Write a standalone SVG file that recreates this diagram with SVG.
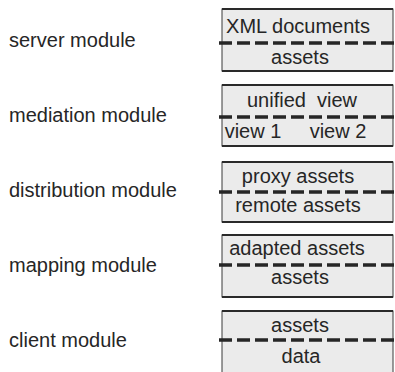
<svg xmlns="http://www.w3.org/2000/svg" width="395" height="372" viewBox="0 0 395 372">
<style>
text{font-family:"Liberation Sans",Arial,sans-serif;font-size:20px;fill:#262626}
.c{text-anchor:middle}
.box{fill:#ebebeb;stroke:#3a3a3a;stroke-width:1}
.edge{stroke:#2a2a2a;stroke-width:2.2;fill:none}
.dash{stroke:#262626;stroke-width:3.4;stroke-dasharray:13 5;fill:none}
</style>
<rect width="395" height="372" fill="#ffffff"/>
<g id="labels">
<text x="9" y="47">server module</text>
<text x="9" y="122">mediation module</text>
<text x="9" y="197">distribution module</text>
<text x="9" y="272">mapping module</text>
<text x="9" y="347">client module</text>
</g>
<g id="server">
<rect class="box" x="222" y="9" width="171" height="62"/>
<line class="edge" x1="222" y1="9" x2="393" y2="9"/>
<line class="edge" x1="222" y1="71" x2="393" y2="71"/>
<line class="dash" x1="219" y1="43" x2="394" y2="43"/>
<text class="c" x="298" y="33">XML documents</text>
<text class="c" x="300" y="64">assets</text>
</g>
<g id="mediation">
<rect class="box" x="222" y="85" width="171" height="61"/>
<line class="edge" x1="222" y1="85" x2="393" y2="85"/>
<line class="edge" x1="222" y1="146" x2="393" y2="146"/>
<line class="dash" x1="219" y1="117" x2="394" y2="117"/>
<text class="c" x="302" y="107" xml:space="preserve">unified  view</text>
<text class="c" x="253" y="138">view 1</text>
<text class="c" x="338" y="138">view 2</text>
</g>
<g id="distribution">
<rect class="box" x="222" y="162" width="171" height="60"/>
<line class="edge" x1="222" y1="162" x2="393" y2="162"/>
<line class="edge" x1="222" y1="222" x2="393" y2="222"/>
<line class="dash" x1="219" y1="192" x2="394" y2="192"/>
<text class="c" x="298" y="183">proxy assets</text>
<text class="c" x="298" y="212">remote assets</text>
</g>
<g id="mapping">
<rect class="box" x="222" y="235" width="171" height="62"/>
<line class="edge" x1="222" y1="235" x2="393" y2="235"/>
<line class="edge" x1="222" y1="297" x2="393" y2="297"/>
<line class="dash" x1="219" y1="265" x2="394" y2="265"/>
<text class="c" x="297" y="255">adapted assets</text>
<text class="c" x="300" y="284">assets</text>
</g>
<g id="client">
<rect class="box" x="222" y="311" width="171" height="64"/>
<line class="edge" x1="222" y1="311" x2="393" y2="311"/>
<line class="dash" x1="219" y1="340" x2="394" y2="340"/>
<text class="c" x="300" y="332">assets</text>
<text class="c" x="301" y="363">data</text>
</g>
<g id="connectors"/>
</svg>
